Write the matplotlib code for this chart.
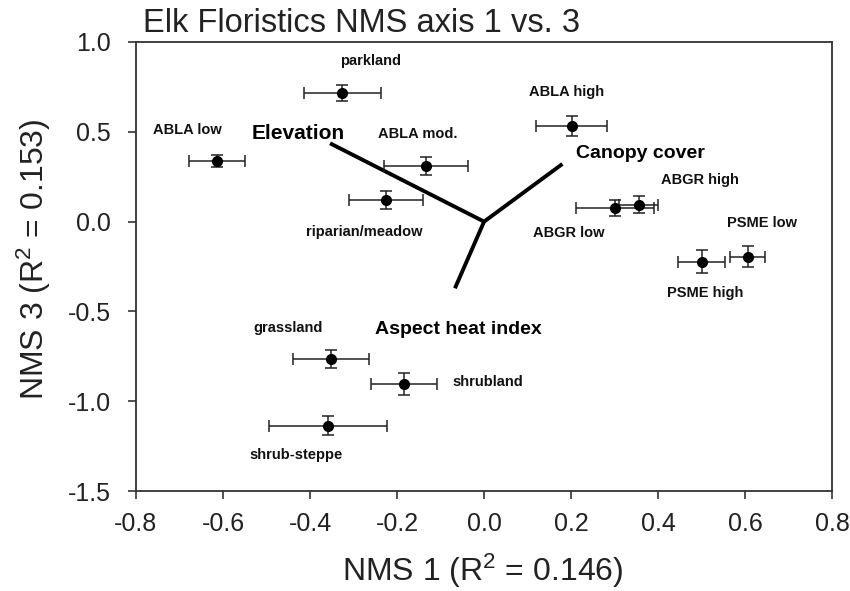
import matplotlib
matplotlib.use('Agg')
import matplotlib.pyplot as plt

plt.rcParams['mathtext.default'] = 'regular'

# group means and standard errors on NMS axes 1 and 3
groups = ['parkland', 'ABLA low', 'riparian/meadow', 'ABLA mod.', 'ABLA high',
          'ABGR low', 'ABGR high', 'PSME high', 'PSME low',
          'grassland', 'shrubland', 'shrub-steppe']
nms1 = [-0.326, -0.614, -0.226, -0.133, 0.201, 0.301, 0.355, 0.500, 0.606, -0.352, -0.185, -0.359]
nms3 = [0.718, 0.338, 0.120, 0.310, 0.532, 0.078, 0.095, -0.223, -0.195, -0.765, -0.904, -1.136]
nms1_se = [0.088, 0.064, 0.085, 0.097, 0.082, 0.090, 0.045, 0.054, 0.040, 0.087, 0.076, 0.135]
nms3_se = [0.045, 0.033, 0.050, 0.050, 0.056, 0.045, 0.045, 0.065, 0.058, 0.050, 0.062, 0.053]

# environmental vectors (biplot)
vectors = ['Elevation', 'Canopy cover', 'Aspect heat index']
vec_x = [-0.354, 0.180, -0.067]
vec_y = [0.436, 0.321, -0.371]

# label anchor positions in data units
lab_x = [-0.262, -0.683, -0.276, -0.152, 0.190, 0.194, 0.497, 0.508, 0.638, -0.450, -0.072, -0.432]
lab_y = [0.894, 0.510, -0.060, 0.490, 0.720, -0.065, 0.232, -0.400, -0.010, -0.590, -0.890, -1.300]
lab_ha = ['center'] * 10 + ['left', 'center']
vlab_x = [-0.427, 0.359, -0.060]
vlab_y = [0.490, 0.380, -0.600]
vlab_size = [15, 14, 14]

sans = ['Liberation Sans', 'DejaVu Sans']
narrow = ['Liberation Sans Narrow', 'Liberation Sans', 'DejaVu Sans']

fig = plt.figure(figsize=(8.5, 5.91), dpi=100)
ax = fig.add_axes([0.160, 0.169, 0.819, 0.760])

for sx, sy in zip(vec_x, vec_y):
    ax.plot([0, sx], [0, sy], color='black', lw=2.8, solid_capstyle='butt', zorder=2)

ax.errorbar(nms1, nms3, xerr=nms1_se, yerr=nms3_se, fmt='o', color='black',
            ecolor='#222222', elinewidth=1.1, capsize=4.5, capthick=1.1,
            markersize=7, zorder=3)

for name, x, y, ha in zip(groups, lab_x, lab_y, lab_ha):
    ax.text(x, y, name, ha=ha, va='center', fontsize=10.5, fontweight='bold',
            family=narrow, color='#111111')
for name, x, y, s in zip(vectors, vlab_x, vlab_y, vlab_size):
    ax.text(x, y, name, ha='center', va='center', fontsize=s, fontweight='bold',
            family=sans, color='black')

ax.set_xlim(-0.8, 0.8)
ax.set_ylim(-1.5, 1.0)
ax.set_xticks([-0.8, -0.6, -0.4, -0.2, 0.0, 0.2, 0.4, 0.6, 0.8])
ax.set_yticks([-1.5, -1.0, -0.5, 0.0, 0.5, 1.0])
ax.set_xticklabels(['%.1f' % v for v in ax.get_xticks()])
ax.set_yticklabels(['%.1f' % v for v in ax.get_yticks()])
ax.tick_params(direction='out', length=6, width=1.2, color='#333333',
               labelsize=18, labelcolor='#222222')
ax.tick_params(axis='x', pad=9)
ax.tick_params(axis='y', pad=12)
for lab in ax.get_xticklabels() + ax.get_yticklabels():
    lab.set_family(sans)
for sp in ax.spines.values():
    sp.set_color('#333333')
    sp.set_linewidth(1.3)

fig.text(143 / 850, 1 - 32 / 591, 'Elk Floristics NMS axis 1 vs. 3', ha='left', va='baseline',
         fontsize=23.5, family=sans, color='#222222')
fig.text(483 / 850, 1 - 571 / 591, r'NMS 1 (R$^2$ = 0.146)', ha='center', va='center',
         fontsize=23, family=sans, color='#222222')
fig.text(34 / 850, 1 - 259 / 591, r'NMS 3 (R$^2$ = 0.153)', ha='center', va='center',
         rotation=90, fontsize=23, family=sans, color='#222222')

fig.savefig('out.png', dpi=100)
